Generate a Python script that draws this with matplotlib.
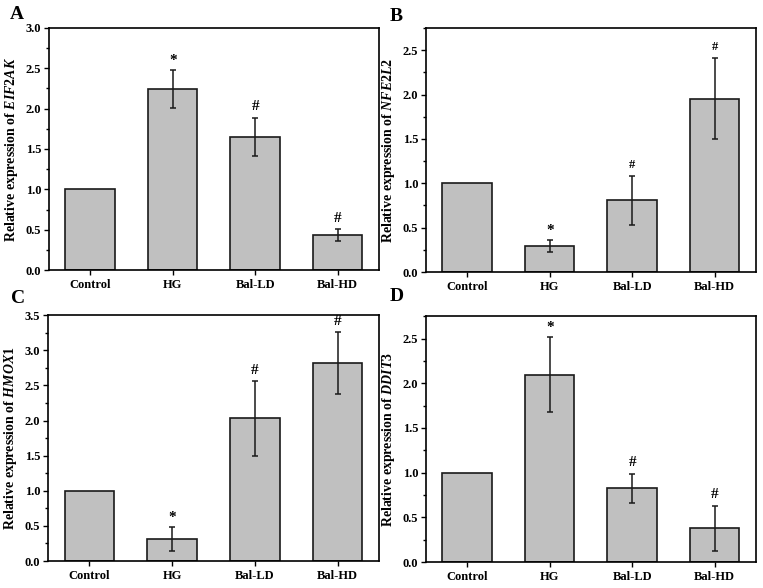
import numpy as np
import matplotlib
matplotlib.use("Agg")
import matplotlib.pyplot as plt
from matplotlib.ticker import MultipleLocator, AutoMinorLocator, FormatStrFormatter

plt.rcParams.update({
    "font.family": "serif",
    "font.serif": ["Liberation Serif", "DejaVu Serif"],
    "font.weight": "bold",
    "font.size": 9,
    "mathtext.fontset": "custom",
    "mathtext.rm": "Liberation Serif:bold",
    "mathtext.it": "Liberation Serif:italic:bold",
    "mathtext.bf": "Liberation Serif:bold",
    "axes.linewidth": 1.2,
    "xtick.direction": "out",
    "ytick.direction": "out",
})

groups = ["Control", "HG", "Bal-LD", "Bal-HD"]

eif2ak_mean = [1.0, 2.24, 1.65, 0.435]
eif2ak_err = [0.0, 0.235, 0.24, 0.07]
eif2ak_mark = ["", "*", "#", "#"]

nfe2l2_mean = [1.0, 0.29, 0.808, 1.952]
nfe2l2_err = [0.0, 0.07, 0.275, 0.455]
nfe2l2_mark = ["", "*", "#", "#"]

hmox1_mean = [1.0, 0.313, 2.03, 2.82]
hmox1_err = [0.0, 0.17, 0.53, 0.435]
hmox1_mark = ["", "*", "#", "#"]

ddit3_mean = [1.0, 2.097, 0.825, 0.377]
ddit3_err = [0.0, 0.42, 0.16, 0.25]
ddit3_mark = ["", "*", "#", "#"]

# letter, gene, means, errors, marks, y max, size of "#", axes rect
panels = [
    ("A", "EIF2AK", eif2ak_mean, eif2ak_err, eif2ak_mark, 3.0, 11,
     [0.0642, 0.5408, 0.4325, 0.4116]),
    ("B", "NFE2L2", nfe2l2_mean, nfe2l2_err, nfe2l2_mark, 2.75, 9,
     [0.5583, 0.5374, 0.4325, 0.4150]),
    ("C", "HMOX1", hmox1_mean, hmox1_err, hmox1_mark, 3.5, 11,
     [0.0629, 0.0459, 0.4338, 0.4180]),
    ("D", "DDIT3", ddit3_mean, ddit3_err, ddit3_mark, 2.75, 11,
     [0.5583, 0.0442, 0.4325, 0.4180]),
]
letter_pos = {"A": (0.013, 0.975), "B": (0.511, 0.972),
              "C": (0.015, 0.492), "D": (0.511, 0.495)}

fig = plt.figure(figsize=(7.63, 5.88), dpi=100)

for letter, gene, mean, err, marks, ymax, hash_fs, rect in panels:
    ax = fig.add_axes(rect)
    x = np.arange(len(groups))
    ax.bar(x, mean, width=0.6, color="#c0c0c0", edgecolor="#1a1a1a",
           linewidth=1.2, zorder=2)
    ax.errorbar(x[1:], mean[1:], yerr=err[1:], fmt="none", ecolor="#1a1a1a",
                elinewidth=1.1, capsize=2.5, capthick=1.1, zorder=3)

    # significance marks above the error caps
    for xi, m, e, mk in zip(x, mean, err, marks):
        if not mk:
            continue
        fs = 11 if mk == "*" else hash_fs
        dy = 7 if mk == "*" else 8
        ax.annotate(mk, (xi, m + e), xytext=(0, dy), textcoords="offset points",
                    ha="center", va="center", fontsize=fs, fontweight="bold")

    ax.set_xlim(-0.5, 3.5)
    ax.set_ylim(0, ymax)
    ax.set_xticks(x)
    ax.set_xticklabels(groups, fontsize=9, fontweight="bold")
    ax.yaxis.set_major_locator(MultipleLocator(0.5))
    ax.yaxis.set_minor_locator(AutoMinorLocator(2))
    ax.yaxis.set_major_formatter(FormatStrFormatter("%.1f"))
    ax.tick_params(axis="y", which="major", length=3.5, width=1.0,
                   labelsize=9, pad=2)
    ax.tick_params(axis="y", which="minor", length=2, width=1.0)
    ax.tick_params(axis="x", which="major", length=3.5, width=1.0, pad=3)
    for lab in ax.get_yticklabels():
        lab.set_fontweight("bold")
    ax.set_ylabel(r"Relative expression of $\mathit{%s}$" % gene,
                  fontsize=10, fontweight="bold", labelpad=4)
    lx, ly = letter_pos[letter]
    fig.text(lx, ly, letter, fontsize=14, fontweight="bold",
             ha="left", va="center")

fig.savefig("out.png", dpi=100, facecolor="white")
